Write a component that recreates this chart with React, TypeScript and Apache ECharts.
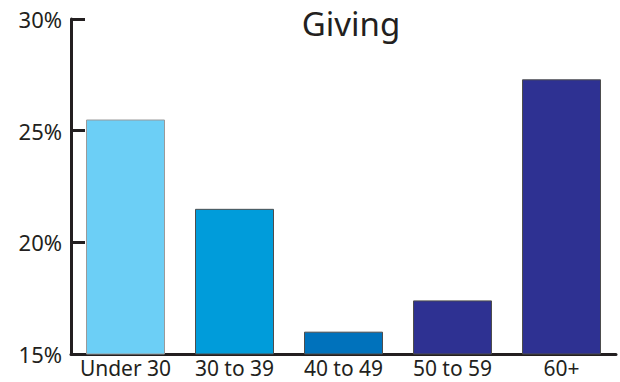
import React, { useEffect, useRef } from "react";
import * as echarts from "echarts";

const categories = ["Under 30", "30 to 39", "40 to 49", "50 to 59", "60+"];
const values = [25.5, 21.5, 16.0, 17.4, 27.3];
const barColors = ["#6CCFF6", "#009CDA", "#0072BC", "#2E3192", "#2E3192"];
const borderColors = ["#9A9A9A", "#4D4D4D", "#4D4D4D", "#4D4D4D", "#4D4D4D"];
const title = "Giving";

export default function App() {
  const ref = useRef<HTMLDivElement>(null);
  useEffect(() => {
    if (!ref.current) return;
    const chart = echarts.init(ref.current, undefined, { renderer: "svg" });
    const font = "'Noto Sans', sans-serif";
    const ink = "#231F20";
    chart.setOption({
      animation: false,
      title: {
        text: title,
        left: 346,
        textAlign: "center",
        top: 2,
        textStyle: { fontFamily: font, fontSize: 33, fontWeight: "normal", color: ink },
      },
      grid: { left: 71, right: 4, top: 19, bottom: 28, containLabel: false },
      xAxis: {
        type: "category",
        data: categories,
        axisLine: { lineStyle: { color: ink, width: 3 } },
        axisTick: { inside: true, length: 8, lineStyle: { color: ink, width: 3 } },
        axisLabel: { fontFamily: font, fontSize: 21, lineHeight: 22, color: ink, margin: 3, interval: 0 },
      },
      yAxis: {
        type: "value",
        min: 15,
        max: 30,
        interval: 5,
        splitLine: { show: false },
        axisLine: { show: true, lineStyle: { color: ink, width: 3 } },
        axisTick: { show: true, inside: true, length: 14, lineStyle: { color: ink, width: 3 } },
        axisLabel: { fontFamily: font, fontSize: 22, color: ink, margin: 9, formatter: "{value}%" },
      },
      series: [
        {
          type: "bar",
          barWidth: 79,
          data: values.map((v, i) => ({
            value: v,
            itemStyle: { color: barColors[i], borderColor: borderColors[i], borderWidth: 1 },
          })),
        },
      ],
    });
    return () => chart.dispose();
  }, []);
  return <div ref={ref} style={{ width: 620, height: 382, position: "absolute", left: 0, top: 0 }} />;
}
